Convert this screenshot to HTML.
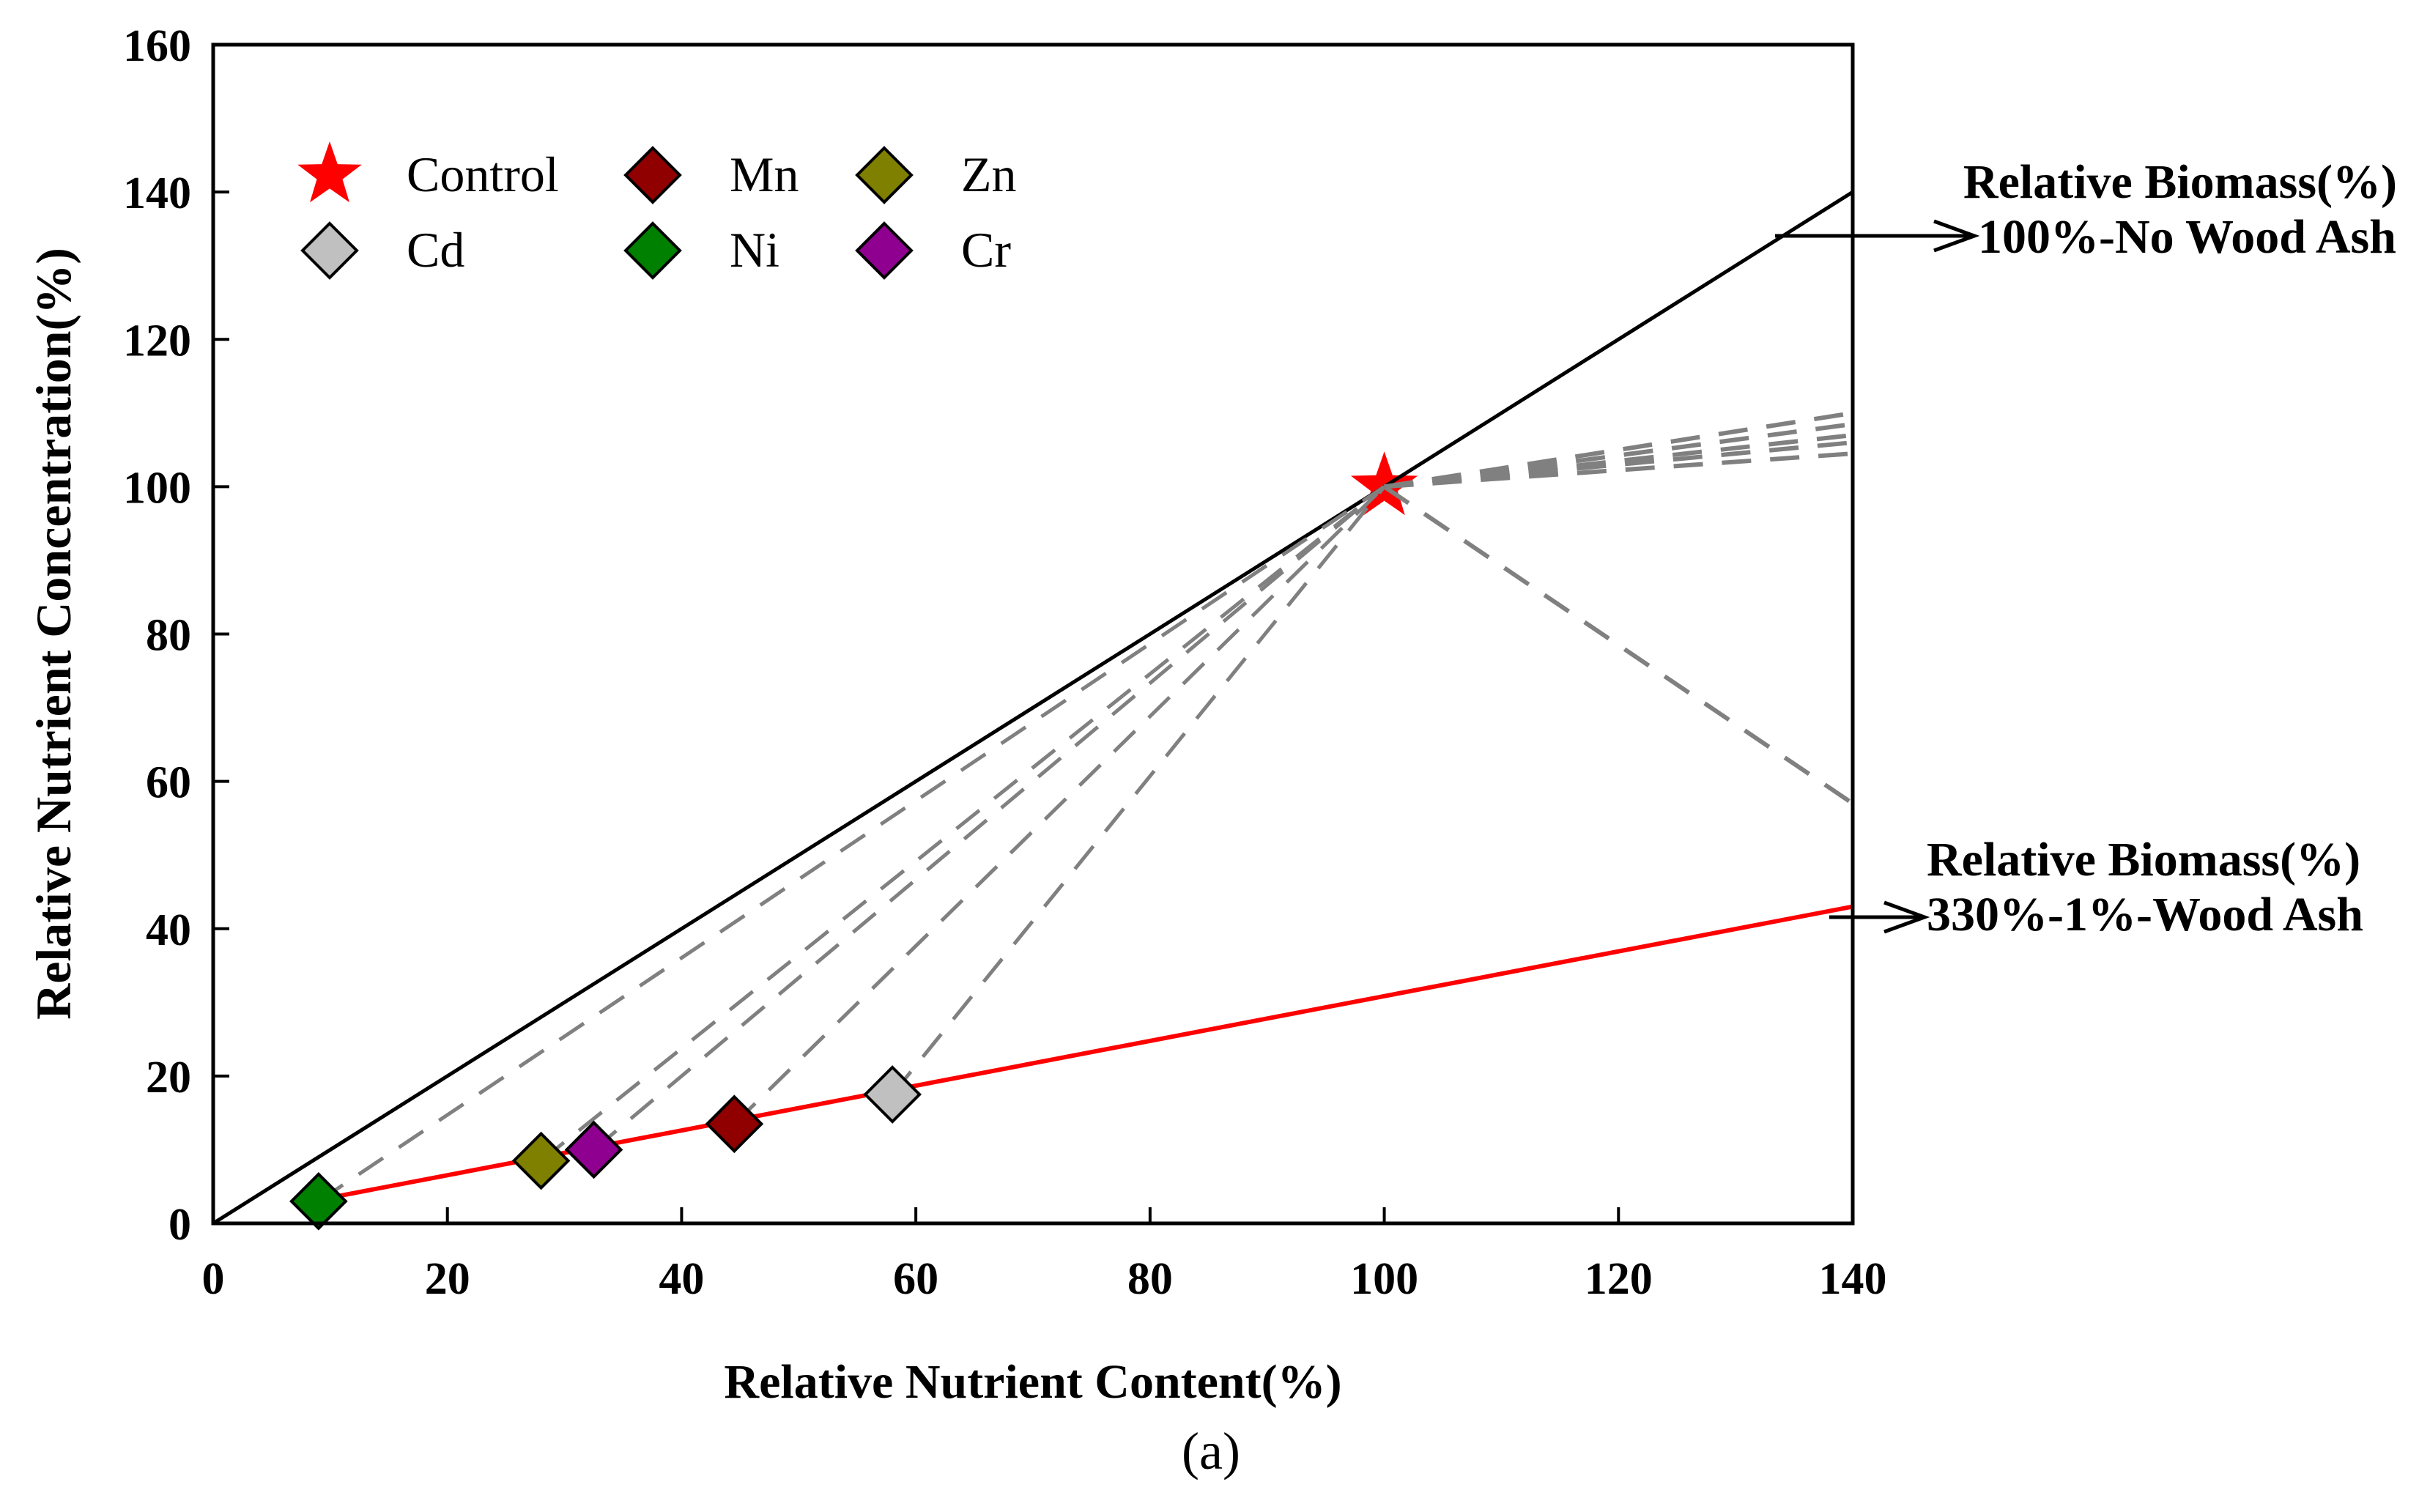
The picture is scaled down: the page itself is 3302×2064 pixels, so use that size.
<!DOCTYPE html>
<html><head><meta charset="utf-8"><style>
html,body{margin:0;padding:0;background:#fff;}
svg{display:block;font-family:"Liberation Serif",serif;font-weight:bold;}
</style></head><body>
<svg id="chart" width="3302" height="2064" viewBox="0 0 3302 2064" xmlns="http://www.w3.org/2000/svg"></svg>
<script>
const xTicks=[0,20,40,60,80,100,120,140];
const yTicks=[0,20,40,60,80,100,120,140,160];
const names=["Ni","Zn","Cr","Mn","Cd"];
const contentX=[9,28,32.5,44.5,58];
const concY=[3,8.5,10,13.5,17.5];
const colors=["#008000","#808000","#900090","#900000","#c0c0c0"];
const control=[100,100];
const fanEndY=[110,108.5,107,106,104.5,57];
const redLine=[[10,3.5],[140,43]];
const blackLine=[[0,0],[140,140]];

const NS="http://www.w3.org/2000/svg";
const svg=document.getElementById('chart');
const L=291,R=2529,T=61,B=1670;
const sx=v=>L+(R-L)*v/140;
const sy=v=>B-(B-T)*v/160;
function mk(tag,at,parent){const e=document.createElementNS(NS,tag);for(const k in at)e.setAttribute(k,at[k]);(parent||svg).appendChild(e);return e;}
function diamond(cx,cy,fill){const s=37;return mk('polygon',{points:`${cx},${cy-s} ${cx+s},${cy} ${cx},${cy+s} ${cx-s},${cy}`,fill:fill,stroke:'#000','stroke-width':4});}
function star(cx,cy,r){let p=[];for(let i=0;i<10;i++){const rr=i%2?r*0.4:r;const a=-Math.PI/2+i*Math.PI/5;p.push((cx+rr*Math.cos(a)).toFixed(1)+','+(cy+rr*Math.sin(a)).toFixed(1));}return mk('polygon',{points:p.join(' '),fill:'#ff0000'});}

let st=star(sx(control[0]),sy(control[1]),48);



let bl=mk('line',{x1:sx(blackLine[0][0]),y1:sy(blackLine[0][1]),x2:sx(blackLine[1][0]),y2:sy(blackLine[1][1]),stroke:'#000','stroke-width':5});


let rl=mk('line',{x1:sx(redLine[0][0]),y1:sy(redLine[0][1]),x2:sx(redLine[1][0]),y2:sy(redLine[1][1]),stroke:'#ff0000','stroke-width':6});



for(let i=0;i<contentX.length;i++){
  let d=mk('line',{x1:sx(contentX[i]),y1:sy(concY[i]),x2:sx(control[0]),y2:sy(control[1]),stroke:'#808080','stroke-width':5,'stroke-dasharray':'40 26'});
  
  
}
for(let i=0;i<fanEndY.length;i++){
  let d=mk('line',{x1:sx(control[0]),y1:sy(control[1]),x2:sx(140),y2:sy(fanEndY[i]),stroke:'#808080','stroke-width':6,'stroke-dasharray':'40 26'});
  
  
}
for(let i=0;i<contentX.length;i++){
  let p=diamond(sx(contentX[i]),sy(concY[i]),colors[i]);
  
  
}

let fr=mk('rect',{x:L,y:T,width:R-L,height:B-T,fill:'none',stroke:'#000','stroke-width':5});



xTicks.forEach(v=>{
  let t=mk('line',{x1:sx(v),y1:B,x2:sx(v),y2:B-22,stroke:'#000','stroke-width':4});
  
  
  let l=mk('text',{x:sx(v),y:B+96,'font-size':62,'text-anchor':'middle'});l.textContent=v;
  
  
});
yTicks.forEach(v=>{
  let t=mk('line',{x1:L,y1:sy(v),x2:L+22,y2:sy(v),stroke:'#000','stroke-width':4});
  
  
  let l=mk('text',{x:L-30,y:sy(v)+22,'font-size':62,'text-anchor':'end'});l.textContent=v;
  
  
});

const leg=[["Control",450,239,'star','#ff0000'],["Mn",891,239,'d','#900000'],["Zn",1207,239,'d','#808000'],["Cd",450,342,'d','#c0c0c0'],["Ni",891,342,'d','#008000'],["Cr",1207,342,'d','#900090']];
leg.forEach(e=>{
  let m=e[3]=='star'?star(e[1],e[2],46):diamond(e[1],e[2],e[4]);
  
  
  let t=mk('text',{x:e[1]+105,y:e[2]+22,'font-size':68,'font-weight':'normal'});t.textContent=e[0];
  
  
});

function arrow(x1,x2,y){mk('line',{x1:x1,y1:y,x2:x2,y2:y,stroke:'#000','stroke-width':5});mk('polyline',{points:`${x2-55},${y-20} ${x2},${y} ${x2-55},${y+20}`,fill:'none',stroke:'#000','stroke-width':5});}
arrow(2423,2695,322);
arrow(2497,2627,1252);
function txt(s,x,y,fs,anchor,name){let t=mk('text',{x:x,y:y,'font-size':fs,'text-anchor':anchor});t.textContent=s;return t;}
txt("Relative Biomass(%)",3272,270,66,'end','annotation-top-title');
txt("100%-No Wood Ash",2700,345,66,'start','annotation-top-value');
txt("Relative Biomass(%)",2630,1195,66,'start','annotation-bottom-title');
txt("330%-1%-Wood Ash",2630,1270,66,'start','annotation-bottom-value');
txt("Relative Nutrient Content(%)",1410,1908,66,'middle','x-axis-title');
let yt=txt("Relative Nutrient Concentration(%)",0,0,68,'middle','y-axis-title');
yt.setAttribute('transform','translate(96,865) rotate(-90)');
let cap=txt("(a)",1653,2005,72,'middle','panel-label');cap.setAttribute('font-weight','normal');
</script>
</body></html>
